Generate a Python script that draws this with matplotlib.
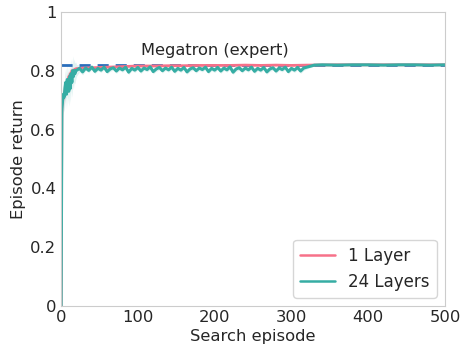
import matplotlib
matplotlib.use("Agg")
import matplotlib.pyplot as plt
import seaborn as sns

sns.set_style("white")
plt.rcParams['font.family'] = ['DejaVu Sans']

# 1 Layer run (episode, mean return, spread of the band)
ep_1 = [0, 1, 2, 3, 4, 5, 6, 7, 8, 9, 10, 11, 12, 13, 14, 15, 16, 18, 20,
        25, 30, 40, 50, 60, 70, 80, 90, 100, 120, 140, 160, 180, 200, 220,
        240, 260, 280, 300, 320, 360, 400, 440, 480, 500]
ret_1 = [0.00, 0.68, 0.70, 0.71, 0.72, 0.73, 0.74, 0.75, 0.76, 0.77, 0.78, 0.78, 0.79, 0.79, 0.80, 0.80, 0.80, 0.805, 0.807,
         0.808, 0.809, 0.810, 0.811, 0.812, 0.813, 0.814, 0.815, 0.816, 0.816, 0.817, 0.817, 0.818, 0.818, 0.818,
         0.819, 0.818, 0.819, 0.818, 0.819, 0.820, 0.820, 0.820, 0.820, 0.820]
spread_1 = [0.00, 0.04, 0.04, 0.04, 0.035, 0.035, 0.03, 0.03, 0.03, 0.025, 0.02, 0.02, 0.02, 0.015, 0.015, 0.012, 0.01, 0.008, 0.006,
            0.005, 0.005, 0.004, 0.004, 0.004, 0.004, 0.004, 0.003, 0.003, 0.003, 0.003, 0.003, 0.003, 0.003, 0.003,
            0.003, 0.003, 0.003, 0.003, 0.002, 0.002, 0.002, 0.002, 0.002, 0.002]

# 24 Layers run
ep_24 = [0, 1, 2, 3, 4, 5, 6, 7, 8, 9, 10, 11, 12, 13, 14, 15, 16, 17, 18, 19,
         20, 24, 28, 32, 36, 40, 44, 48, 52, 56, 60, 64, 68, 72, 76, 80, 84, 88, 92, 96,
         100, 104, 108, 112, 116, 120, 124, 128, 132, 136, 140, 144, 148, 152, 156, 160,
         164, 168, 172, 176, 180, 184, 188, 192, 196, 200, 204, 208, 212, 216, 220, 224,
         228, 232, 236, 240, 244, 248, 252, 256, 260, 264, 268, 272, 276, 280, 284, 288,
         292, 296, 300, 304, 308, 312, 316, 320, 330, 340, 360, 380, 400, 420, 440, 460, 480, 500]
ret_24 = [0.00, 0.67, 0.70, 0.72, 0.71, 0.74, 0.76, 0.72, 0.77, 0.75, 0.73, 0.78, 0.74, 0.79, 0.76, 0.80, 0.78, 0.80, 0.79, 0.80,
          0.801, 0.808, 0.796, 0.809, 0.801, 0.812, 0.798, 0.808, 0.802, 0.812, 0.797, 0.806, 0.810, 0.799, 0.809, 0.803, 0.812, 0.795, 0.808, 0.802,
          0.811, 0.799, 0.809, 0.804, 0.813, 0.797, 0.806, 0.811, 0.800, 0.809, 0.803, 0.812, 0.798, 0.808, 0.802, 0.811,
          0.796, 0.806, 0.810, 0.800, 0.809, 0.804, 0.812, 0.797, 0.808, 0.802, 0.811, 0.799, 0.809, 0.803, 0.813, 0.795,
          0.806, 0.810, 0.800, 0.809, 0.803, 0.812, 0.798, 0.808, 0.802, 0.811, 0.796, 0.806, 0.810, 0.799, 0.809, 0.804,
          0.812, 0.797, 0.808, 0.802, 0.811, 0.799, 0.809, 0.812, 0.819, 0.820, 0.819, 0.820, 0.820, 0.819, 0.820, 0.820, 0.819, 0.820]
spread_24 = [0.00, 0.05, 0.05, 0.05, 0.05, 0.05, 0.05, 0.05, 0.05, 0.05, 0.05, 0.05, 0.05, 0.05, 0.05, 0.05, 0.045, 0.04, 0.035, 0.03,
             0.02, 0.012, 0.01, 0.008, 0.008, 0.008, 0.008, 0.008, 0.008, 0.008, 0.008, 0.008, 0.008, 0.008, 0.008, 0.008, 0.008, 0.008, 0.008, 0.008,
             0.008, 0.008, 0.008, 0.008, 0.008, 0.008, 0.008, 0.008, 0.008, 0.008, 0.008, 0.008, 0.008, 0.008, 0.008, 0.008,
             0.008, 0.008, 0.008, 0.008, 0.008, 0.008, 0.008, 0.008, 0.008, 0.008, 0.008, 0.008, 0.008, 0.008, 0.008, 0.008,
             0.008, 0.008, 0.008, 0.008, 0.008, 0.008, 0.008, 0.008, 0.008, 0.008, 0.008, 0.008, 0.008, 0.008, 0.008, 0.008,
             0.008, 0.008, 0.008, 0.008, 0.008, 0.008, 0.008, 0.006, 0.002, 0.002, 0.002, 0.002, 0.002, 0.002, 0.002, 0.002, 0.002, 0.002]

expert_return = 0.82
expert_label = "Megatron (expert)"

pink = "#f77189"
teal = "#36ada4"

fig = plt.figure(figsize=(4.63, 3.49), dpi=100)
ax = fig.add_axes([0.132, 0.123, 0.829, 0.843])

ax.fill_between(ep_1, [v - s for v, s in zip(ret_1, spread_1)],
                [v + s for v, s in zip(ret_1, spread_1)], color=pink, alpha=0.15, linewidth=0)
ax.fill_between(ep_24, [v - s for v, s in zip(ret_24, spread_24)],
                [v + s for v, s in zip(ret_24, spread_24)], color=teal, alpha=0.15, linewidth=0)
ax.axhline(expert_return, color="#2a6ebb", linestyle="--", linewidth=2, dashes=(4, 2.5))
ax.plot(ep_1, ret_1, color=pink, linewidth=2, label="1 Layer")
ax.plot(ep_24, ret_24, color=teal, linewidth=2.2, label="24 Layers")

ax.text(200, 0.852, expert_label, ha="center", va="baseline", fontsize=11.7, color="#262626")

ax.set_xlim(0, 500)
ax.set_ylim(0, 1)
ax.set_yticks([0, 0.2, 0.4, 0.6, 0.8, 1.0])
ax.set_yticklabels(["0", "0.2", "0.4", "0.6", "0.8", "1"])
ax.tick_params(labelsize=11.8, colors="#262626", length=0)
ax.tick_params(axis="x", pad=3)
ax.tick_params(axis="y", pad=3.5)
ax.set_xlabel("Search episode", fontsize=11.8, color="#262626", labelpad=3)
ax.set_ylabel("Episode return", fontsize=11.8, color="#262626", labelpad=3)
for s in ax.spines.values():
    s.set_color("#cccccc")

leg = ax.legend(loc="lower right", fontsize=12, handlelength=2.1, borderaxespad=0.5)
for line in leg.get_lines():
    line.set_linewidth(1.8)

fig.savefig("out.png", dpi=100)
